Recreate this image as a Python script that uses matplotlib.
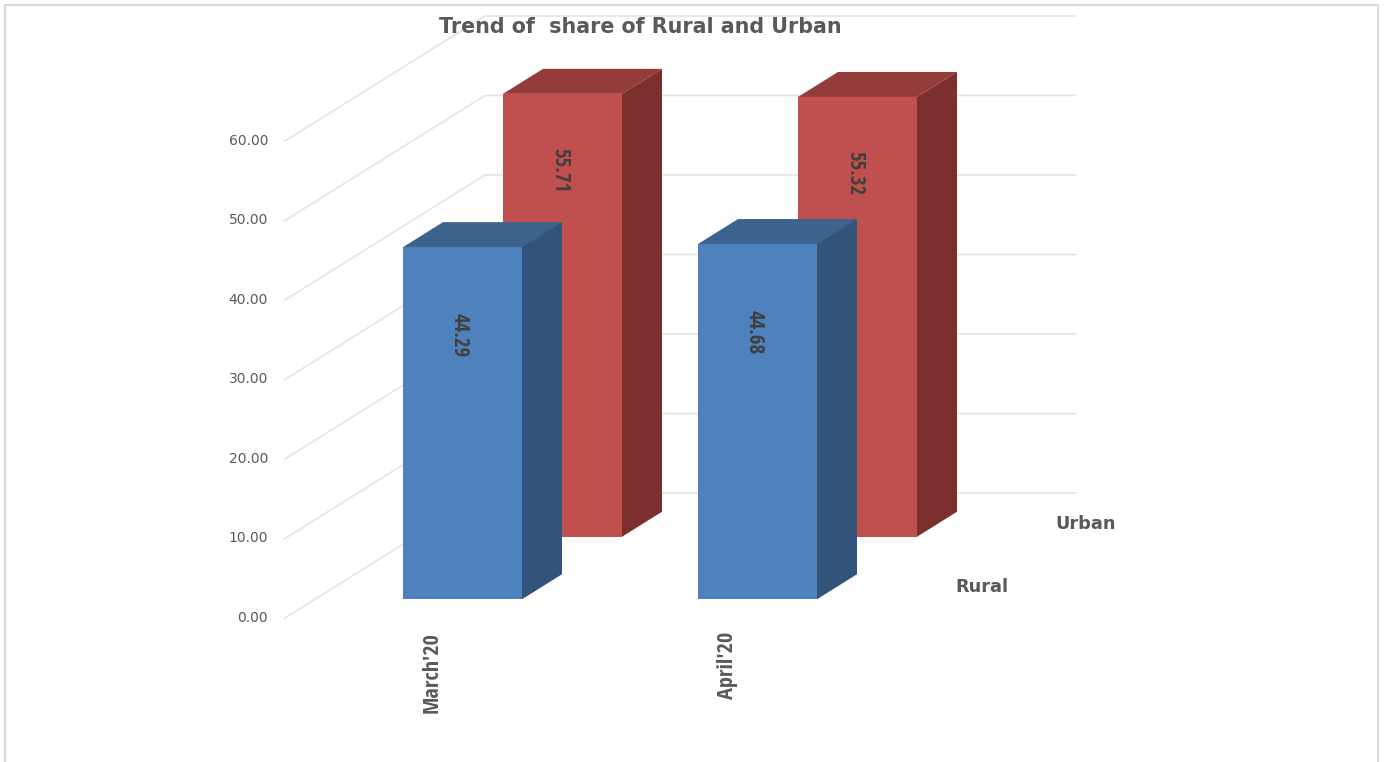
import matplotlib
matplotlib.use('Agg')
import matplotlib.pyplot as plt
from matplotlib.patches import Polygon
from matplotlib import font_manager

# ---- data ----
categories = ["March'20", "April'20"]
series_names = ["Rural", "Urban"]
rural = [44.29, 44.68]
urban = [55.71, 55.32]
yticks = [0, 10, 20, 30, 40, 50, 60]
title = "Trend of  share of Rural and Urban"

# ---- styles ----
front_cols = {"Rural": "#4f81bd", "Urban": "#c0504d"}
side_cols = {"Rural": "#32537a", "Urban": "#7c302e"}
top_cols = {"Rural": "#3c628e", "Urban": "#943c3a"}
grid_col = "#e4e4e4"
txt_col = "#595959"
lbl_col = "#404040"

avail = {f.name for f in font_manager.fontManager.ttflist}
narrow = "DejaVu Sans"
for cand in ["Liberation Sans Narrow", "Open Sans Condensed", "IBM Plex Sans Condensed"]:
    if cand in avail:
        narrow = cand
        break

W, H = 1385, 762
fig = plt.figure(figsize=(W / 100, H / 100), dpi=100)
ax = fig.add_axes([0, 0, 1, 1])
PX = 7.95          # pixels per value unit
Y0 = 618           # pixel row of value 0 at the front of the floor
ax.set_xlim(0, W)
ax.set_ylim(-(H - Y0) / PX, Y0 / PX)
ax.axis('off')

SLOPE = 1.6        # x shift per unit of depth
def dv(d):
    return d / PX

floor_x0, floor_x1 = 285, 875
wall_depth = 125
n_cat = len(categories)
slot = (floor_x1 - floor_x0) / n_cat
bar_w = 119
bar_d = 25
n_ser = len(series_names)
dslot = wall_depth / n_ser

# border
ax.plot([5, 5, 1378, 1378], [-(H + 10 - Y0) / PX, (Y0 - 5) / PX, (Y0 - 5) / PX, -(H + 10 - Y0) / PX],
        color="#d9d9d9", lw=1.5, zorder=0, clip_on=False)

# gridlines (side wall + back wall) and tick labels
for v in yticks:
    ax.plot([floor_x0, floor_x0 + wall_depth * SLOPE, floor_x1 + wall_depth * SLOPE],
            [v, v + dv(wall_depth), v + dv(wall_depth)], color=grid_col, lw=1.2, zorder=0.5)
    ax.text(268, v, f"{v:.2f}", ha='right', va='center', fontsize=10,
            color=txt_col, family='DejaVu Sans')

values = {"Rural": rural, "Urban": urban}
label_drop = {"Rural": 88, "Urban": 76}

for si in reversed(range(n_ser)):
    name = series_names[si]
    d_front = si * dslot + (dslot - bar_d) / 2
    b = dv(d_front)
    for ci, val in enumerate(values[name]):
        left = floor_x0 + ci * slot + (slot - bar_w) / 2
        x = left + d_front * SLOPE
        z = 2 + (n_ser - si)
        ax.bar(x, val, width=bar_w, bottom=b, align='edge', color=front_cols[name],
               edgecolor='none', zorder=z)
        ox, oy = bar_d * SLOPE, dv(bar_d)
        top = Polygon([(x, b + val), (x + bar_w, b + val), (x + bar_w + ox, b + val + oy),
                       (x + ox, b + val + oy)], closed=True, facecolor=top_cols[name],
                      edgecolor='none', zorder=z)
        side = Polygon([(x + bar_w, b), (x + bar_w + ox, b + oy), (x + bar_w + ox, b + oy + val),
                        (x + bar_w, b + val)], closed=True, facecolor=side_cols[name],
                       edgecolor='none', zorder=z)
        ax.add_patch(top)
        ax.add_patch(side)
        ax.text(x + bar_w / 2 - 3, b + val - dv(label_drop[name]), f"{val:.2f}",
                rotation=-90, ha='center', va='center', fontsize=15, fontweight='bold',
                color=lbl_col, family=narrow, zorder=z + 0.1)

# category labels
for ci, cat in enumerate(categories):
    cx = floor_x0 + ci * slot + slot / 2
    ax.text(cx, dv(-14), cat, rotation=90, ha='center', va='top', fontsize=16,
            fontweight='bold', color=txt_col, family=narrow)

# series (depth) labels
for si, name in enumerate(series_names):
    dc = si * dslot + dslot / 2
    ax.text(floor_x1 + dc * SLOPE + 30, dv(dc), name, ha='left', va='center',
            fontsize=12.8, fontweight='bold', color=txt_col, family='DejaVu Sans')

# title
ax.text(640, (Y0 - 27) / PX, title, ha='center', va='center', fontsize=14.9,
        fontweight='bold', color=txt_col, family='DejaVu Sans')

fig.savefig('out.png', dpi=100)
